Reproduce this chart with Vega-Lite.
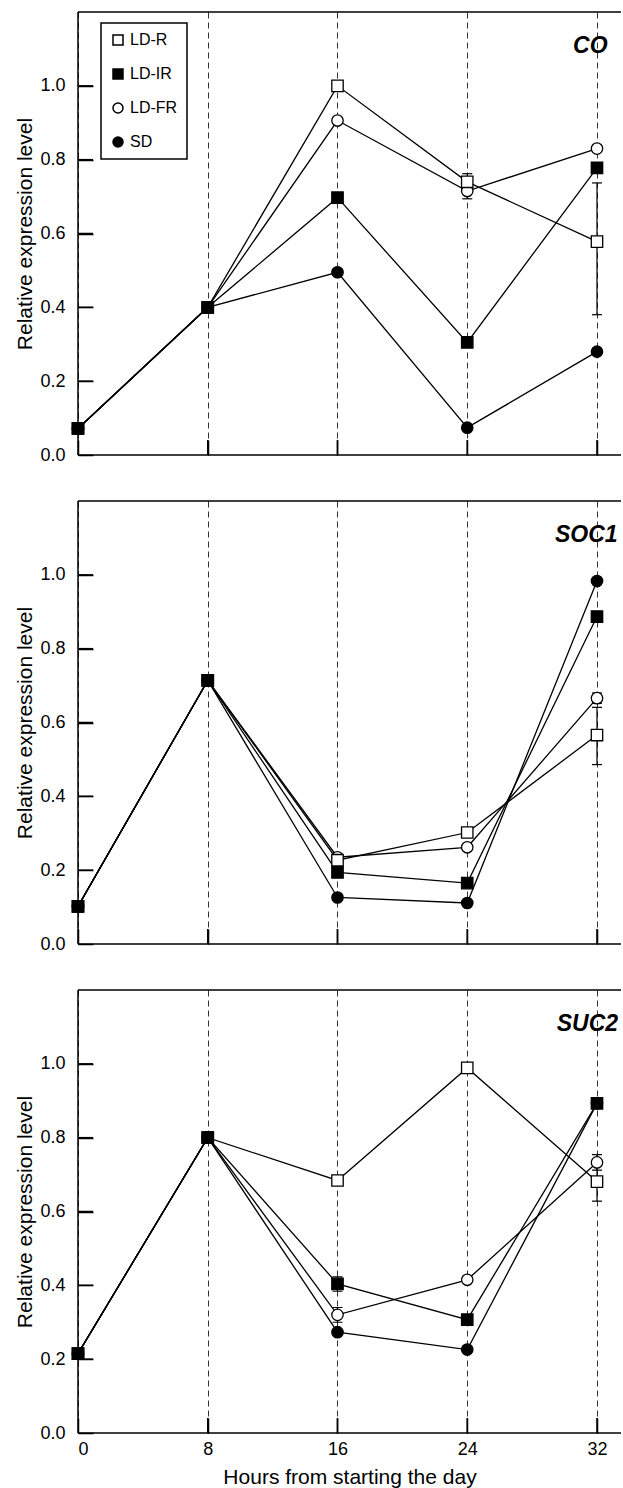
{
  "$schema": "https://vega.github.io/schema/vega-lite/v6.json",
  "padding": {"left": 14, "top": 11, "right": 0, "bottom": 4},
  "background": "white",
  "spacing": 46,
  "bounds": "flush",
  "config": {
    "font": "Liberation Sans",
    "view": {"stroke": null},
    "axis": {
      "labelFont": "Liberation Sans", "titleFont": "Liberation Sans",
      "labelColor": "black", "titleColor": "black", "tickColor": "black",
      "labelFontSize": 18, "titleFontSize": 21, "titleFontWeight": "normal",
      "domain": false, "ticks": true, "tickWidth": 1.5, "tickSize": -15
    },
    "axisX": {"grid": true, "gridDash": [6, 4], "gridColor": "#333333", "gridWidth": 1, "gridOpacity": 1, "labelPadding": 22},
    "axisY": {"grid": false, "labelPadding": 28},
    "legend": {"strokeWidth": 1.5}
  },
  "resolve": {"legend": {"shape": "independent", "fill": "independent"}},
  "datasets": {
    "pts": [
      {"gene": "CO", "hour": 0, "series": "LD-FR", "value": 0.072},
      {"gene": "CO", "hour": 0, "series": "LD-R", "value": 0.072},
      {"gene": "CO", "hour": 0, "series": "SD", "value": 0.072},
      {"gene": "CO", "hour": 0, "series": "LD-IR", "value": 0.072},
      {"gene": "CO", "hour": 8, "series": "LD-FR", "value": 0.40},
      {"gene": "CO", "hour": 8, "series": "LD-R", "value": 0.40},
      {"gene": "CO", "hour": 8, "series": "SD", "value": 0.40},
      {"gene": "CO", "hour": 8, "series": "LD-IR", "value": 0.40},
      {"gene": "CO", "hour": 16, "series": "LD-FR", "value": 0.906},
      {"gene": "CO", "hour": 16, "series": "LD-R", "value": 1.0},
      {"gene": "CO", "hour": 16, "series": "SD", "value": 0.495},
      {"gene": "CO", "hour": 16, "series": "LD-IR", "value": 0.697},
      {"gene": "CO", "hour": 24, "series": "LD-FR", "value": 0.715},
      {"gene": "CO", "hour": 24, "series": "LD-R", "value": 0.74},
      {"gene": "CO", "hour": 24, "series": "SD", "value": 0.074},
      {"gene": "CO", "hour": 24, "series": "LD-IR", "value": 0.305},
      {"gene": "CO", "hour": 32, "series": "LD-FR", "value": 0.83},
      {"gene": "CO", "hour": 32, "series": "LD-R", "value": 0.578},
      {"gene": "CO", "hour": 32, "series": "SD", "value": 0.28},
      {"gene": "CO", "hour": 32, "series": "LD-IR", "value": 0.778},

      {"gene": "SOC1", "hour": 0, "series": "LD-FR", "value": 0.102},
      {"gene": "SOC1", "hour": 0, "series": "LD-R", "value": 0.102},
      {"gene": "SOC1", "hour": 0, "series": "SD", "value": 0.102},
      {"gene": "SOC1", "hour": 0, "series": "LD-IR", "value": 0.102},
      {"gene": "SOC1", "hour": 8, "series": "LD-FR", "value": 0.714},
      {"gene": "SOC1", "hour": 8, "series": "LD-R", "value": 0.714},
      {"gene": "SOC1", "hour": 8, "series": "SD", "value": 0.714},
      {"gene": "SOC1", "hour": 8, "series": "LD-IR", "value": 0.714},
      {"gene": "SOC1", "hour": 16, "series": "LD-FR", "value": 0.235},
      {"gene": "SOC1", "hour": 16, "series": "LD-R", "value": 0.227},
      {"gene": "SOC1", "hour": 16, "series": "SD", "value": 0.126},
      {"gene": "SOC1", "hour": 16, "series": "LD-IR", "value": 0.194},
      {"gene": "SOC1", "hour": 24, "series": "LD-FR", "value": 0.262},
      {"gene": "SOC1", "hour": 24, "series": "LD-R", "value": 0.302},
      {"gene": "SOC1", "hour": 24, "series": "SD", "value": 0.111},
      {"gene": "SOC1", "hour": 24, "series": "LD-IR", "value": 0.165},
      {"gene": "SOC1", "hour": 32, "series": "LD-FR", "value": 0.666},
      {"gene": "SOC1", "hour": 32, "series": "LD-R", "value": 0.566},
      {"gene": "SOC1", "hour": 32, "series": "SD", "value": 0.983},
      {"gene": "SOC1", "hour": 32, "series": "LD-IR", "value": 0.887},

      {"gene": "SUC2", "hour": 0, "series": "LD-FR", "value": 0.215},
      {"gene": "SUC2", "hour": 0, "series": "LD-R", "value": 0.215},
      {"gene": "SUC2", "hour": 0, "series": "SD", "value": 0.215},
      {"gene": "SUC2", "hour": 0, "series": "LD-IR", "value": 0.215},
      {"gene": "SUC2", "hour": 8, "series": "LD-FR", "value": 0.80},
      {"gene": "SUC2", "hour": 8, "series": "LD-R", "value": 0.80},
      {"gene": "SUC2", "hour": 8, "series": "SD", "value": 0.80},
      {"gene": "SUC2", "hour": 8, "series": "LD-IR", "value": 0.80},
      {"gene": "SUC2", "hour": 16, "series": "LD-FR", "value": 0.320},
      {"gene": "SUC2", "hour": 16, "series": "LD-R", "value": 0.684},
      {"gene": "SUC2", "hour": 16, "series": "SD", "value": 0.273},
      {"gene": "SUC2", "hour": 16, "series": "LD-IR", "value": 0.404},
      {"gene": "SUC2", "hour": 24, "series": "LD-FR", "value": 0.415},
      {"gene": "SUC2", "hour": 24, "series": "LD-R", "value": 0.989},
      {"gene": "SUC2", "hour": 24, "series": "SD", "value": 0.226},
      {"gene": "SUC2", "hour": 24, "series": "LD-IR", "value": 0.307},
      {"gene": "SUC2", "hour": 32, "series": "LD-FR", "value": 0.733},
      {"gene": "SUC2", "hour": 32, "series": "LD-R", "value": 0.681},
      {"gene": "SUC2", "hour": 32, "series": "SD", "value": 0.893},
      {"gene": "SUC2", "hour": 32, "series": "LD-IR", "value": 0.893}
    ],
    "errs": [
      {"gene": "CO", "hour": 24, "series": "LD-R", "lo": 0.74, "hi": 0.762},
      {"gene": "CO", "hour": 24, "series": "LD-FR", "lo": 0.694, "hi": 0.715},
      {"gene": "CO", "hour": 32, "series": "LD-R", "lo": 0.38, "hi": 0.737},
      {"gene": "SOC1", "hour": 32, "series": "LD-R", "lo": 0.486, "hi": 0.641},
      {"gene": "SOC1", "hour": 32, "series": "LD-FR", "lo": 0.652, "hi": 0.68},
      {"gene": "SUC2", "hour": 16, "series": "LD-IR", "lo": 0.384, "hi": 0.423},
      {"gene": "SUC2", "hour": 16, "series": "LD-FR", "lo": 0.300, "hi": 0.340},
      {"gene": "SUC2", "hour": 32, "series": "LD-R", "lo": 0.628, "hi": 0.734},
      {"gene": "SUC2", "hour": 32, "series": "LD-FR", "lo": 0.712, "hi": 0.754}
    ],
    "labs": [{"gene": "CO"}, {"gene": "SOC1"}, {"gene": "SUC2"}],
    "one": [{"edge": "frame"}],
    "yt": [{"tick": 0.2}, {"tick": 0.4}, {"tick": 0.6}, {"tick": 0.8}, {"tick": 1.0}],
    "xt": [{"tick": 8}, {"tick": 16}, {"tick": 24}, {"tick": 32}]
  },
  "vconcat": [
    {
      "width": 543, "height": 443,
      "layer": [
        {"data": {"name": "pts"}, "transform": [{"filter": "datum.gene === 'CO'"}],
         "mark": {"type": "line", "color": "black", "strokeWidth": 1.3},
         "encoding": {
           "x": {"field": "hour", "type": "quantitative", "scale": {"domain": [0, 33.48], "nice": false, "zero": false}, "axis": {"values": [0, 8, 16, 24, 32], "labels": false, "title": null}},
           "y": {"field": "value", "type": "quantitative", "scale": {"domain": [0, 1.2], "nice": false}, "axis": {"values": [0, 0.2, 0.4, 0.6, 0.8, 1.0], "format": ".1f", "title": "Relative expression level"}},
           "detail": {"field": "series"}}},
        {"data": {"name": "yt"}, "mark": {"type": "rule", "color": "black", "strokeWidth": 1.5},
         "encoding": {"x": {"datum": 0}, "x2": {"datum": 0.925}, "y": {"field": "tick", "type": "quantitative"}}},
        {"data": {"name": "xt"}, "mark": {"type": "rule", "color": "black", "strokeWidth": 1.5},
         "encoding": {"x": {"field": "tick", "type": "quantitative"}, "y": {"datum": 0}, "y2": {"datum": 0.0406}}},
        {"data": {"name": "errs"}, "transform": [{"filter": "datum.gene === 'CO'"}],
         "mark": {"type": "rule", "color": "black", "strokeWidth": 1.2},
         "encoding": {"x": {"field": "hour", "type": "quantitative"}, "y": {"field": "lo", "type": "quantitative"}, "y2": {"field": "hi"}}},
        {"data": {"name": "errs"}, "transform": [{"filter": "datum.gene === 'CO'"}],
         "mark": {"type": "tick", "orient": "horizontal", "color": "black", "size": 10, "thickness": 1.2, "opacity": 1},
         "encoding": {"x": {"field": "hour", "type": "quantitative"}, "y": {"field": "lo", "type": "quantitative"}}},
        {"data": {"name": "errs"}, "transform": [{"filter": "datum.gene === 'CO'"}],
         "mark": {"type": "tick", "orient": "horizontal", "color": "black", "size": 10, "thickness": 1.2, "opacity": 1},
         "encoding": {"x": {"field": "hour", "type": "quantitative"}, "y": {"field": "hi", "type": "quantitative"}}},
        {"data": {"name": "pts"}, "transform": [{"filter": "datum.gene === 'CO'"}],
         "mark": {"type": "point", "filled": true, "stroke": "black", "strokeWidth": 1.3, "opacity": 1, "size": 130},
         "encoding": {
           "x": {"field": "hour", "type": "quantitative"},
           "y": {"field": "value", "type": "quantitative"},
           "fill": {"field": "series", "type": "nominal", "scale": {"domain": ["LD-R", "LD-IR", "LD-FR", "SD"], "range": ["white", "black", "white", "black"]},
             "legend": {"title": null, "orient": "none", "legendX": 23, "legendY": 11, "padding": 9, "rowPadding": 18, "labelFontSize": 16, "labelFont": "Liberation Sans", "labelColor": "black", "symbolSize": 100, "strokeColor": "black", "fillColor": "white", "labelOffset": 4,
               "encode": {"symbols": {"update": {"stroke": {"value": "black"}, "strokeWidth": {"value": 1.3}}}}}},
           "shape": {"field": "series", "type": "nominal", "scale": {"domain": ["LD-R", "LD-IR", "LD-FR", "SD"], "range": ["square", "square", "circle", "circle"]},
             "legend": {"title": null, "orient": "none", "legendX": 23, "legendY": 11, "padding": 9, "rowPadding": 18, "labelFontSize": 16, "labelFont": "Liberation Sans", "labelColor": "black", "symbolSize": 100, "strokeColor": "black", "fillColor": "white", "labelOffset": 4,
               "encode": {"symbols": {"update": {"stroke": {"value": "black"}, "strokeWidth": {"value": 1.3}}}}}}}},
        {"data": {"name": "one"}, "mark": {"type": "rule", "color": "black", "strokeWidth": 1.5}, "encoding": {"y": {"datum": 1.2}}},
        {"data": {"name": "one"}, "mark": {"type": "rule", "color": "black", "strokeWidth": 1.5}, "encoding": {"y": {"datum": 0}}},
        {"data": {"name": "one"}, "mark": {"type": "rule", "color": "black", "strokeWidth": 1.5}, "encoding": {"x": {"datum": 0}}},
        {"data": {"name": "labs"}, "transform": [{"filter": "datum.gene === 'CO'"}],
         "mark": {"type": "text", "align": "right", "baseline": "alphabetic", "fontSize": 23, "fontWeight": "bold", "fontStyle": "italic", "font": "Liberation Sans", "color": "black"},
         "encoding": {"text": {"field": "gene"}, "x": {"datum": 32.65}, "y": {"datum": 1.09}}}
      ]
    },
    {
      "width": 543, "height": 443,
      "layer": [
        {"data": {"name": "pts"}, "transform": [{"filter": "datum.gene === 'SOC1'"}],
         "mark": {"type": "line", "color": "black", "strokeWidth": 1.3},
         "encoding": {
           "x": {"field": "hour", "type": "quantitative", "scale": {"domain": [0, 33.48], "nice": false, "zero": false}, "axis": {"values": [0, 8, 16, 24, 32], "labels": false, "title": null}},
           "y": {"field": "value", "type": "quantitative", "scale": {"domain": [0, 1.2], "nice": false}, "axis": {"values": [0, 0.2, 0.4, 0.6, 0.8, 1.0], "format": ".1f", "title": "Relative expression level"}},
           "detail": {"field": "series"}}},
        {"data": {"name": "yt"}, "mark": {"type": "rule", "color": "black", "strokeWidth": 1.5},
         "encoding": {"x": {"datum": 0}, "x2": {"datum": 0.925}, "y": {"field": "tick", "type": "quantitative"}}},
        {"data": {"name": "xt"}, "mark": {"type": "rule", "color": "black", "strokeWidth": 1.5},
         "encoding": {"x": {"field": "tick", "type": "quantitative"}, "y": {"datum": 0}, "y2": {"datum": 0.0406}}},
        {"data": {"name": "errs"}, "transform": [{"filter": "datum.gene === 'SOC1'"}],
         "mark": {"type": "rule", "color": "black", "strokeWidth": 1.2},
         "encoding": {"x": {"field": "hour", "type": "quantitative"}, "y": {"field": "lo", "type": "quantitative"}, "y2": {"field": "hi"}}},
        {"data": {"name": "errs"}, "transform": [{"filter": "datum.gene === 'SOC1'"}],
         "mark": {"type": "tick", "orient": "horizontal", "color": "black", "size": 10, "thickness": 1.2, "opacity": 1},
         "encoding": {"x": {"field": "hour", "type": "quantitative"}, "y": {"field": "lo", "type": "quantitative"}}},
        {"data": {"name": "errs"}, "transform": [{"filter": "datum.gene === 'SOC1'"}],
         "mark": {"type": "tick", "orient": "horizontal", "color": "black", "size": 10, "thickness": 1.2, "opacity": 1},
         "encoding": {"x": {"field": "hour", "type": "quantitative"}, "y": {"field": "hi", "type": "quantitative"}}},
        {"data": {"name": "pts"}, "transform": [{"filter": "datum.gene === 'SOC1'"}],
         "mark": {"type": "point", "filled": true, "stroke": "black", "strokeWidth": 1.3, "opacity": 1, "size": 130},
         "encoding": {
           "x": {"field": "hour", "type": "quantitative"},
           "y": {"field": "value", "type": "quantitative"},
           "fill": {"field": "series", "type": "nominal", "scale": {"domain": ["LD-R", "LD-IR", "LD-FR", "SD"], "range": ["white", "black", "white", "black"]}, "legend": null},
           "shape": {"field": "series", "type": "nominal", "scale": {"domain": ["LD-R", "LD-IR", "LD-FR", "SD"], "range": ["square", "square", "circle", "circle"]}, "legend": null}}},
        {"data": {"name": "one"}, "mark": {"type": "rule", "color": "black", "strokeWidth": 1.5}, "encoding": {"y": {"datum": 1.2}}},
        {"data": {"name": "one"}, "mark": {"type": "rule", "color": "black", "strokeWidth": 1.5}, "encoding": {"y": {"datum": 0}}},
        {"data": {"name": "one"}, "mark": {"type": "rule", "color": "black", "strokeWidth": 1.5}, "encoding": {"x": {"datum": 0}}},
        {"data": {"name": "labs"}, "transform": [{"filter": "datum.gene === 'SOC1'"}],
         "mark": {"type": "text", "align": "right", "baseline": "alphabetic", "fontSize": 23, "fontWeight": "bold", "fontStyle": "italic", "font": "Liberation Sans", "color": "black"},
         "encoding": {"text": {"field": "gene"}, "x": {"datum": 33.27}, "y": {"datum": 1.09}}}
      ]
    },
    {
      "width": 543, "height": 443,
      "layer": [
        {"data": {"name": "pts"}, "transform": [{"filter": "datum.gene === 'SUC2'"}],
         "mark": {"type": "line", "color": "black", "strokeWidth": 1.3},
         "encoding": {
           "x": {"field": "hour", "type": "quantitative", "scale": {"domain": [0, 33.48], "nice": false, "zero": false}, "axis": {"values": [0, 8, 16, 24, 32], "labels": true, "title": "Hours from starting the day", "titlePadding": 8}},
           "y": {"field": "value", "type": "quantitative", "scale": {"domain": [0, 1.2], "nice": false}, "axis": {"values": [0, 0.2, 0.4, 0.6, 0.8, 1.0], "format": ".1f", "title": "Relative expression level"}},
           "detail": {"field": "series"}}},
        {"data": {"name": "yt"}, "mark": {"type": "rule", "color": "black", "strokeWidth": 1.5},
         "encoding": {"x": {"datum": 0}, "x2": {"datum": 0.925}, "y": {"field": "tick", "type": "quantitative"}}},
        {"data": {"name": "xt"}, "mark": {"type": "rule", "color": "black", "strokeWidth": 1.5},
         "encoding": {"x": {"field": "tick", "type": "quantitative"}, "y": {"datum": 0}, "y2": {"datum": 0.0406}}},
        {"data": {"name": "errs"}, "transform": [{"filter": "datum.gene === 'SUC2'"}],
         "mark": {"type": "rule", "color": "black", "strokeWidth": 1.2},
         "encoding": {"x": {"field": "hour", "type": "quantitative"}, "y": {"field": "lo", "type": "quantitative"}, "y2": {"field": "hi"}}},
        {"data": {"name": "errs"}, "transform": [{"filter": "datum.gene === 'SUC2'"}],
         "mark": {"type": "tick", "orient": "horizontal", "color": "black", "size": 10, "thickness": 1.2, "opacity": 1},
         "encoding": {"x": {"field": "hour", "type": "quantitative"}, "y": {"field": "lo", "type": "quantitative"}}},
        {"data": {"name": "errs"}, "transform": [{"filter": "datum.gene === 'SUC2'"}],
         "mark": {"type": "tick", "orient": "horizontal", "color": "black", "size": 10, "thickness": 1.2, "opacity": 1},
         "encoding": {"x": {"field": "hour", "type": "quantitative"}, "y": {"field": "hi", "type": "quantitative"}}},
        {"data": {"name": "pts"}, "transform": [{"filter": "datum.gene === 'SUC2'"}],
         "mark": {"type": "point", "filled": true, "stroke": "black", "strokeWidth": 1.3, "opacity": 1, "size": 130},
         "encoding": {
           "x": {"field": "hour", "type": "quantitative"},
           "y": {"field": "value", "type": "quantitative"},
           "fill": {"field": "series", "type": "nominal", "scale": {"domain": ["LD-R", "LD-IR", "LD-FR", "SD"], "range": ["white", "black", "white", "black"]}, "legend": null},
           "shape": {"field": "series", "type": "nominal", "scale": {"domain": ["LD-R", "LD-IR", "LD-FR", "SD"], "range": ["square", "square", "circle", "circle"]}, "legend": null}}},
        {"data": {"name": "one"}, "mark": {"type": "rule", "color": "black", "strokeWidth": 1.5}, "encoding": {"y": {"datum": 1.2}}},
        {"data": {"name": "one"}, "mark": {"type": "rule", "color": "black", "strokeWidth": 1.5}, "encoding": {"y": {"datum": 0}}},
        {"data": {"name": "one"}, "mark": {"type": "rule", "color": "black", "strokeWidth": 1.5}, "encoding": {"x": {"datum": 0}}},
        {"data": {"name": "labs"}, "transform": [{"filter": "datum.gene === 'SUC2'"}],
         "mark": {"type": "text", "align": "right", "baseline": "alphabetic", "fontSize": 23, "fontWeight": "bold", "fontStyle": "italic", "font": "Liberation Sans", "color": "black"},
         "encoding": {"text": {"field": "gene"}, "x": {"datum": 33.3}, "y": {"datum": 1.09}}}
      ]
    }
  ]
}
